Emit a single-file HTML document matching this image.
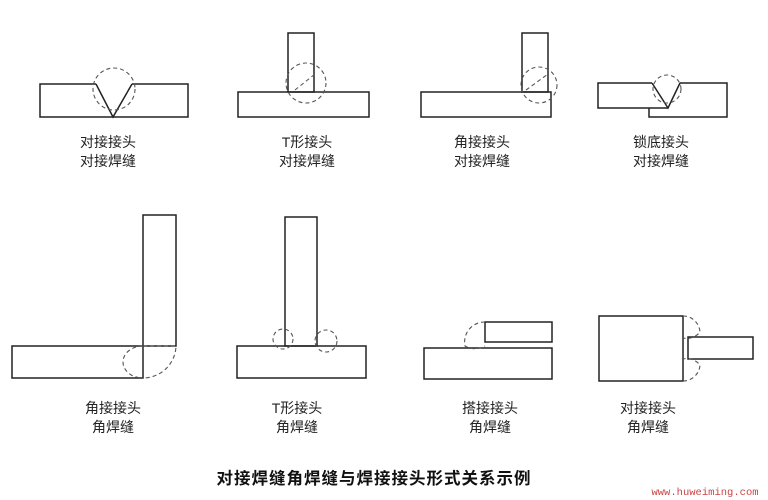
<!DOCTYPE html>
<html><head><meta charset="utf-8"><style>
html,body{margin:0;padding:0;background:#fff;}
svg{display:block}
text{font-family:"Liberation Sans","Noto Sans CJK SC",sans-serif;fill:#222;}
</style></head><body>
<svg width="768" height="500" viewBox="0 0 768 500" xmlns="http://www.w3.org/2000/svg">
<g fill="none" stroke="#222" stroke-width="1.5">
<polyline points="96,84 40,84 40,117 188,117 188,84 132,84"/>
<polyline points="96,84 113,117 132,84"/>
<rect x="288" y="33" width="26" height="59"/>
<rect x="238" y="92" width="131" height="25"/>
<rect x="522" y="33" width="26" height="59"/>
<rect x="421" y="92" width="130" height="25"/>
<polyline points="652,83 598,83 598,108 668,108"/>
<polyline points="680,83 727,83 727,117 649,117 649,108"/>
<polyline points="652,83 668,108 680,83"/>
<rect x="143" y="215" width="33" height="131"/>
<rect x="12" y="346" width="131" height="32"/>
<rect x="285" y="217" width="32" height="129"/>
<rect x="237" y="346" width="129" height="32"/>
<rect x="485" y="322" width="67" height="20"/>
<rect x="424" y="348" width="128" height="31"/>
<rect x="599" y="316" width="84" height="65"/>
<rect x="688" y="337" width="65" height="22"/>
</g>
<g fill="none" stroke="#555" stroke-width="1.1" stroke-dasharray="4,3">
<circle cx="114" cy="89" r="21"/>
<circle cx="306" cy="83" r="20"/>
<path d="M295,90 L315,74"/>
<circle cx="539" cy="85" r="18"/>
<path d="M526,90 L548,74"/>
<circle cx="667" cy="89" r="14"/>
<path d="M143,346 L176,346 A33,33 0 0 1 143,378"/>
<path d="M143,346 A20,16 0 0 0 143,378"/>
<circle cx="283" cy="339" r="10"/>
<circle cx="326" cy="341" r="11"/>
<path d="M485,322 A20,20 0 0 0 465,346 A20,20 0 0 0 485,346"/>
<path d="M683,316 A17,17 0 0 1 700,332 A17,17 0 0 1 683,338"/>
<path d="M683,381 A17,17 0 0 0 700,365 A17,17 0 0 0 683,359"/>
</g>
<g font-size="14" text-anchor="middle">
<text x="108" y="147">对接接头</text><text x="108" y="166">对接焊缝</text>
<text x="307" y="147">T形接头</text><text x="307" y="166">对接焊缝</text>
<text x="482" y="147">角接接头</text><text x="482" y="166">对接焊缝</text>
<text x="661" y="147">锁底接头</text><text x="661" y="166">对接焊缝</text>
<text x="113" y="413">角接接头</text><text x="113" y="432">角焊缝</text>
<text x="297" y="413">T形接头</text><text x="297" y="432">角焊缝</text>
<text x="490" y="413">搭接接头</text><text x="490" y="432">角焊缝</text>
<text x="648" y="413">对接接头</text><text x="648" y="432">角焊缝</text>
</g>
<text x="374" y="484" font-size="16.5" font-weight="bold" text-anchor="middle" letter-spacing="1" style="fill:#111">对接焊缝角焊缝与焊接接头形式关系示例</text>
<text x="705" y="495" font-size="10.5" text-anchor="middle" style="fill:#c44;font-family:'Liberation Mono',monospace">www.huweiming.com</text>
</svg>
</body></html>
